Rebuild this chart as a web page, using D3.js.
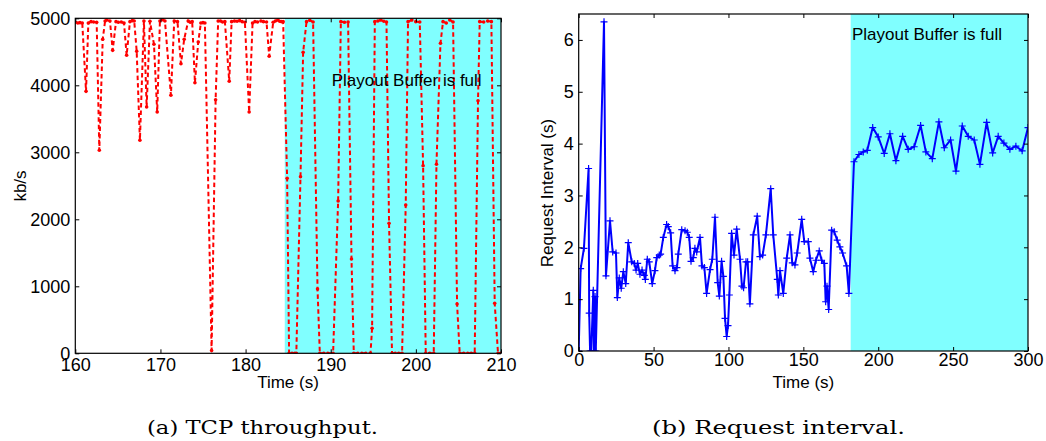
<!DOCTYPE html>
<html>
<head>
<meta charset="utf-8">
<script src="https://cdn.jsdelivr.net/npm/d3@7/dist/d3.min.js"></script>
<style>
  html, body { margin: 0; padding: 0; background: #fff; }
  svg { display: block; }
  .tick text { font-family: "Liberation Sans", Arial, Helvetica, sans-serif; font-size: 18px; fill: #000; }
  .tick line { stroke: #000; }
  .domain { display: none; }
  .lbl { font-family: "Liberation Sans", Arial, Helvetica, sans-serif; font-size: 17px; fill: #000; }
  .cap { font-family: "DejaVu Serif", "Liberation Serif", serif; font-size: 19px; fill: #000; }
</style>
</head>
<body>
<svg id="fig" width="1046" height="441"></svg>
<script>
// ---- (a) TCP throughput: time (s) and throughput (kb/s) ----
const tcpTime = [
  160.00, 160.30, 160.55, 160.82, 161.26, 161.53, 161.85, 162.15, 162.51, 162.82,
  163.22, 163.50, 163.69, 164.07, 164.39, 164.78, 165.05, 165.40, 165.72, 166.03,
  166.42, 166.70, 166.92, 167.21, 167.59, 168.06, 168.38, 168.77, 169.24, 169.62,
  169.94, 170.25, 170.53, 171.23, 171.62, 172.00, 172.41, 172.79, 173.26, 173.50,
  173.73, 174.05, 174.44, 174.75, 175.00, 175.22, 176.01, 176.48, 176.78, 177.05,
  177.30, 177.57, 178.08, 178.36, 178.70, 179.00, 179.30, 179.60, 179.92, 180.42,
  180.82, 181.10, 181.40, 181.80, 182.10, 182.46, 182.77, 183.24, 183.50, 183.80,
  184.00, 184.22, 184.41, 184.88, 185.11, 185.45, 185.78, 185.96, 186.45, 186.76,
  187.16, 187.54, 187.93, 188.45, 188.72, 189.19, 189.66, 190.28, 190.87, 191.19,
  191.60, 192.04, 192.44, 192.71, 193.18, 193.65, 194.12, 194.67, 194.86, 195.18,
  195.53, 195.88, 196.24, 196.55, 196.85, 197.20, 197.58, 197.99, 198.38, 198.81,
  199.08, 199.52, 199.99, 200.46, 200.85, 201.16, 201.63, 202.10, 202.42, 202.89,
  203.19, 203.57, 203.98, 204.37, 204.84, 205.15, 205.62, 206.09, 206.50, 206.91,
  207.30, 207.50, 207.97, 208.44, 208.87, 209.26, 209.65, 209.97
];
const tcpRate = [
  4940, 4930, 4935, 4930, 3910, 4930, 4950, 4945, 4940, 3030,
  4687, 4960, 4975, 4960, 4522, 4950, 4940, 4945, 4930, 4448,
  4950, 4965, 4960, 4507, 3180, 4960, 3676, 4955, 4612, 3601,
  4960, 4980, 4960, 3851, 4960, 4950, 4322, 4687, 4960, 4940,
  4950, 4039, 4646, 4930, 4935, 4930,   40, 3785, 4960, 4960,
  4945, 4950, 4060, 4950, 4960, 4955, 4965, 4950, 4940, 3601,
  4930, 4950, 4945, 4960, 4950, 4945, 4433, 4940, 4960, 4975,
  4955, 4950, 4950, 2612,    0,    0,    0,    0, 2636, 4493,
  4950, 4970, 4945,  960,    0,    0,    0,    0, 2273, 4950,
  4940, 4945, 1407,    0,    0,    0,    0,    0,  373, 4950,
  4960, 4975, 4955, 4945, 1940,    0,    0,    0,    0, 2213,
  4950, 4975, 4950, 4945, 2800,    0,    0,    0, 2821, 4627,
  4950, 4930, 4975, 4945,  736,    0,    0,    0,    0,    0,
  3770, 4950, 4945, 4960, 4950,  746,    0,    0
];
const tcpXTicks = [160, 170, 180, 190, 200, 210];
const tcpYTicks = [0, 1000, 2000, 3000, 4000, 5000];
const tcpFullStart = 184.6;   // playout buffer full from here on

// ---- (b) Request interval: time (s) and interval (s) ----
const reqTime = [
  0, 1.3, 3.5, 6.6, 7.0, 7.6, 8.4, 9.75, 10.2, 10.9, 11.4, 16.9, 18.2, 20.9, 22.7,
  24.9, 25.8, 27.1, 28.4, 29.8, 31.4, 33.1, 35.4, 37.1, 38.3, 39.4, 40.9, 42.3, 43.8,
  44.5, 45.8, 47.1, 49.1, 50.9, 52.1, 53.8, 54.7, 56.5, 58.7, 59.8, 61.4, 62.7, 64.3,
  65.6, 66.5, 68.8, 71.0, 72.5, 73.8, 75.0, 76.5, 77.6, 78.8, 81.0, 82.3, 83.9, 85.4,
  87.7, 89.2, 91.0, 92.8, 93.9, 95.4, 96.6, 97.7, 98.8, 99.7, 100.6, 102.1, 103.7,
  105.5, 107.7, 109.0, 110.1, 111.7, 112.8, 114.3, 116.6, 119.2, 121.0, 122.8, 125.0,
  128.2, 129.9, 132.6, 133.3, 134.4, 136.6, 138.9, 141.1, 142.6, 144.4, 145.9, 148.9,
  150.6, 153.3, 154.4, 156.6, 158.4, 160.6, 162.2, 164.0, 164.9, 165.8, 166.9, 168.9,
  170.6, 172.6, 174.4, 176.2, 178.9, 180.4, 183.8, 187.1, 190.0, 192.7, 196.3, 200.0,
  204.0, 207.8, 211.8, 216.3, 220.0, 224.0, 228.3, 231.8, 236.1, 240.5, 244.1, 248.3,
  251.9, 256.1, 260.1, 264.1, 267.9, 272.4, 276.4, 280.1, 283.9, 287.9, 291.9, 296.1,
  300.0
];
const reqInterval = [
  0, 1.59, 1.98, 3.52, 0.73, 0, 0, 1.17, 0, 1.05, 0, 6.35, 1.45, 2.51, 1.91,
  1.89, 1.03, 1.41, 1.21, 1.53, 1.30, 2.09, 1.72, 1.69, 1.56, 1.69, 1.48, 1.56, 1.46,
  1.38, 1.77, 1.72, 1.30, 1.55, 1.80, 1.85, 1.87, 2.19, 2.44, 2.40, 2.28, 1.64, 1.55,
  1.61, 1.87, 2.34, 2.32, 2.29, 2.19, 1.73, 1.80, 1.98, 1.91, 2.19, 1.64, 1.61, 1.11,
  1.57, 1.77, 2.58, 1.32, 1.06, 1.73, 1.44, 0.63, 0.28, 0.49, 1.08, 2.27, 1.85,
  2.35, 1.77, 1.25, 1.22, 1.72, 1.72, 0.91, 2.24, 2.60, 1.82, 1.85, 2.24,
  3.13, 2.24, 1.38, 1.08, 1.55, 1.11, 1.79, 2.24, 1.70, 1.66, 1.89, 2.54,
  2.11, 2.11, 1.79, 1.53, 1.75, 1.93, 1.75, 1.69, 0.95, 1.25, 0.80, 2.33,
  2.30, 2.14, 2.01, 1.89, 1.64, 1.11, 3.65, 3.79, 3.84, 3.87, 4.31, 4.13,
  3.81, 4.19, 3.67, 4.14, 3.89, 3.94, 4.35, 3.84, 3.71, 4.42, 3.92, 4.07,
  3.47, 4.34, 4.14, 4.07, 3.60, 4.41, 3.82, 4.14, 4.01, 3.89, 3.95, 3.86,
  4.31
];
const reqXTicks = [0, 50, 100, 150, 200, 250, 300];
const reqYTicks = [0, 1, 2, 3, 4, 5, 6];
const reqFullStart = 181.6;

const shadeLabel = "Playout Buffer is full";
const CYAN = "#80ffff";

const svg = d3.select("#fig");
const intFmt = d3.format("d");

// Draws one boxed panel with inward ticks on all four sides.
function panel(opts) {
  const { x, y, xTicks, yTicks, id } = opts;
  const [x0, x1] = x.range();
  const [yb, yt] = y.range();
  const g = svg.append("g");

  g.append("clipPath").attr("id", id).append("rect")
    .attr("x", x0).attr("y", yt).attr("width", x1 - x0).attr("height", yb - yt);

  // shaded region where the buffer is full
  g.append("rect")
    .attr("x", x(opts.fullStart)).attr("y", yt)
    .attr("width", x1 - x(opts.fullStart)).attr("height", yb - yt)
    .attr("fill", CYAN);

  const plot = g.append("g").attr("clip-path", `url(#${id})`);

  g.append("g").attr("transform", `translate(0,${yb})`)
    .call(d3.axisBottom(x).tickValues(xTicks).tickFormat(intFmt)
      .tickSize(-4).tickSizeOuter(0).tickPadding(opts.xPad));
  g.append("g").attr("transform", `translate(0,${yt})`)
    .call(d3.axisTop(x).tickValues(xTicks).tickSize(-4).tickSizeOuter(0).tickFormat(""));
  g.append("g").attr("transform", `translate(${x0},0)`)
    .call(d3.axisLeft(y).tickValues(yTicks).tickFormat(intFmt)
      .tickSize(-4).tickSizeOuter(0).tickPadding(5));
  g.append("g").attr("transform", `translate(${x1},0)`)
    .call(d3.axisRight(y).tickValues(yTicks).tickSize(-4).tickSizeOuter(0).tickFormat(""));

  g.append("rect")
    .attr("x", x0).attr("y", yt).attr("width", x1 - x0).attr("height", yb - yt)
    .attr("fill", "none").attr("stroke", "#000").attr("stroke-width", 1.2);

  return { g, plot };
}

// ---------- panel (a) ----------
const xA = d3.scaleLinear().domain([160, 210]).range([75.3, 501]);
const yA = d3.scaleLinear().domain([0, 5000]).range([353.3, 18.3]);
const pA = panel({ x: xA, y: yA, xTicks: tcpXTicks, yTicks: tcpYTicks, id: "clipA", fullStart: tcpFullStart, xPad: 5 });

const tcp = tcpTime.map((t, i) => ({ t, v: tcpRate[i] }));
pA.plot.append("path")
  .datum(tcp)
  .attr("fill", "none").attr("stroke", "#ff0000").attr("stroke-width", 2)
  .attr("stroke-dasharray", "4.5,3")
  .attr("d", d3.line().x(d => xA(d.t)).y(d => yA(d.v)));
pA.plot.selectAll("circle.pt").data(tcp).join("circle")
  .attr("class", "pt")
  .attr("cx", d => xA(d.t)).attr("cy", d => yA(d.v)).attr("r", 1.8)
  .attr("fill", "#ff0000");

pA.g.append("text").attr("class", "lbl").attr("font-size", 16.5)
  .attr("x", 331.7).attr("y", 85.5).text(shadeLabel);
pA.g.append("text").attr("class", "lbl").attr("text-anchor", "middle")
  .attr("x", 288).attr("y", 388).text("Time (s)");
pA.g.append("text").attr("class", "lbl").attr("text-anchor", "middle")
  .attr("transform", "translate(26,186) rotate(-90)").text("kb/s");

// ---------- panel (b) ----------
const xB = d3.scaleLinear().domain([0, 300]).range([578.7, 1028]);
const yB = d3.scaleLinear().domain([0, 6.5]).range([351, 14]);
const pB = panel({ x: xB, y: yB, xTicks: reqXTicks, yTicks: reqYTicks, id: "clipB", fullStart: reqFullStart, xPad: 2 });

const req = reqTime.map((t, i) => ({ t, v: reqInterval[i] }));
pB.plot.append("path")
  .datum(req)
  .attr("fill", "none").attr("stroke", "#0000ff").attr("stroke-width", 2)
  .attr("stroke-linejoin", "round")
  .attr("d", d3.line().x(d => xB(d.t)).y(d => yB(d.v)));
pB.plot.selectAll("path.plus").data(req).join("path")
  .attr("class", "plus")
  .attr("transform", d => `translate(${xB(d.t)},${yB(d.v)})`)
  .attr("d", "M-3.5,0H3.5M0,-3.5V3.5")
  .attr("stroke", "#0000ff").attr("stroke-width", 1.2);

pB.g.append("text").attr("class", "lbl").attr("font-size", 17.5)
  .attr("x", 852).attr("y", 39.5).text(shadeLabel);
pB.g.append("text").attr("class", "lbl").attr("text-anchor", "middle")
  .attr("x", 803.4).attr("y", 388).text("Time (s)");
pB.g.append("text").attr("class", "lbl").attr("text-anchor", "middle")
  .attr("transform", "translate(553,193) rotate(-90)").text("Request Interval (s)");

// ---------- sub-captions ----------
svg.append("text").attr("class", "cap").attr("x", 147).attr("y", 434)
  .attr("textLength", 231).attr("lengthAdjust", "spacingAndGlyphs").text("(a)  TCP throughput.");
svg.append("text").attr("class", "cap").attr("x", 652).attr("y", 434)
  .attr("textLength", 253).attr("lengthAdjust", "spacingAndGlyphs").text("(b)  Request interval.");
</script>
</body>
</html>
